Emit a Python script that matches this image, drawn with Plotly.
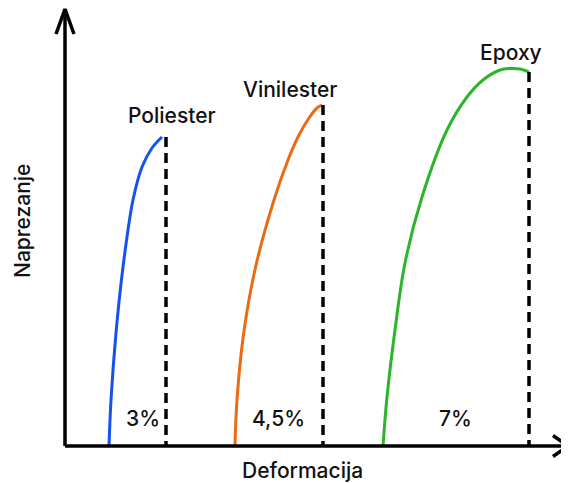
import plotly.graph_objects as go

# Data (arbitrary units read from the schematic)
materials = ["Poliester", "Vinilester", "Epoxy"]
strain_labels = ["3%", "4,5%", "7%"]
colors = ["#1652f0", "#eb6a12", "#2cb52a"]

poliester_x = [4.4, 4.6, 5.1, 5.8, 6.8, 7.7, 8.7, 9.7]
poliester_y = [0.0, 4.6, 11.3, 17.9, 24.6, 27.9, 29.8, 30.9]

vinilester_x = [17.0, 17.2, 17.87, 19.06, 20.9, 22.3, 23.4, 24.4, 25.2, 25.7]
vinilester_y = [0.0, 4.6, 11.3, 17.9, 24.6, 28.6, 31.1, 32.8, 33.8, 34.1]

epoxy_x = [31.8, 32.2, 33.0, 34.0, 35.7, 38.2, 40.2, 41.8, 43.5, 44.5, 45.5, 46.4]
epoxy_y = [0.0, 4.9, 11.6, 18.3, 24.9, 31.6, 34.9, 36.6, 37.6, 37.75, 37.7, 37.4]

break_x = [10.1, 25.8, 46.4]
break_y = [30.9, 34.1, 37.4]

curves = [(poliester_x, poliester_y), (vinilester_x, vinilester_y), (epoxy_x, epoxy_y)]

fig = go.Figure()

for (cx, cy), col, name in zip(curves, colors, materials):
    fig.add_trace(go.Scatter(x=cx, y=cy, mode="lines", line=dict(color=col, width=3, shape="spline"),
                             name=name, showlegend=False, hoverinfo="skip"))

for bx, by in zip(break_x, break_y):
    fig.add_trace(go.Scatter(x=[bx, bx], y=[by, 0], mode="lines",
                             line=dict(color="black", width=3.5, dash="10px,6px"),
                             showlegend=False, hoverinfo="skip"))

# Axes with arrows
axis_top = 43.7
axis_right = 50.3
fig.add_trace(go.Scatter(x=[0, 0], y=[0, axis_top], mode="lines", line=dict(color="black", width=3.5),
                         showlegend=False, hoverinfo="skip"))
fig.add_trace(go.Scatter(x=[0, axis_right], y=[0, 0], mode="lines", line=dict(color="black", width=3.5),
                         showlegend=False, hoverinfo="skip"))
fig.add_trace(go.Scatter(x=[-0.9, 0, 0.9], y=[axis_top - 2.5, axis_top, axis_top - 2.5], mode="lines",
                         line=dict(color="black", width=3.5), showlegend=False, hoverinfo="skip"))
fig.add_trace(go.Scatter(x=[axis_right - 1.5, axis_right, axis_right - 1.5], y=[1.05, 0, -1.05], mode="lines",
                         line=dict(color="black", width=3.5), showlegend=False, hoverinfo="skip"))

font = dict(family="Inter, Lato, sans-serif", size=21, color="#111111", weight=500)

name_pos = [(10.7, 33.1), (22.5, 35.7), (44.6, 39.4)]
for (px, py), t in zip(name_pos, materials):
    fig.add_annotation(x=px, y=py, text=t, showarrow=False, font=font, xanchor="center", yanchor="middle")

lab_pos = [(7.8, 2.8), (21.3, 2.8), (39.0, 2.8)]
for (px, py), t in zip(lab_pos, strain_labels):
    fig.add_annotation(x=px, y=py, text=t, showarrow=False, font=font, xanchor="center", yanchor="middle")

fig.add_annotation(x=-4.3, y=22.5, text="Naprezanje", textangle=-90, showarrow=False, font=font,
                   xanchor="center", yanchor="middle")
fig.add_annotation(x=23.7, y=-2.4, text="Deformacija", showarrow=False, font=font,
                   xanchor="center", yanchor="middle")

fig.update_layout(
    width=569, height=483,
    margin=dict(l=0, r=0, t=0, b=0),
    paper_bgcolor="white", plot_bgcolor="white",
    xaxis=dict(range=[-5.7, 51.2], visible=False, fixedrange=True),
    yaxis=dict(range=[-4.5, 43.8], visible=False, fixedrange=True),
)

fig.write_html("out.html")
